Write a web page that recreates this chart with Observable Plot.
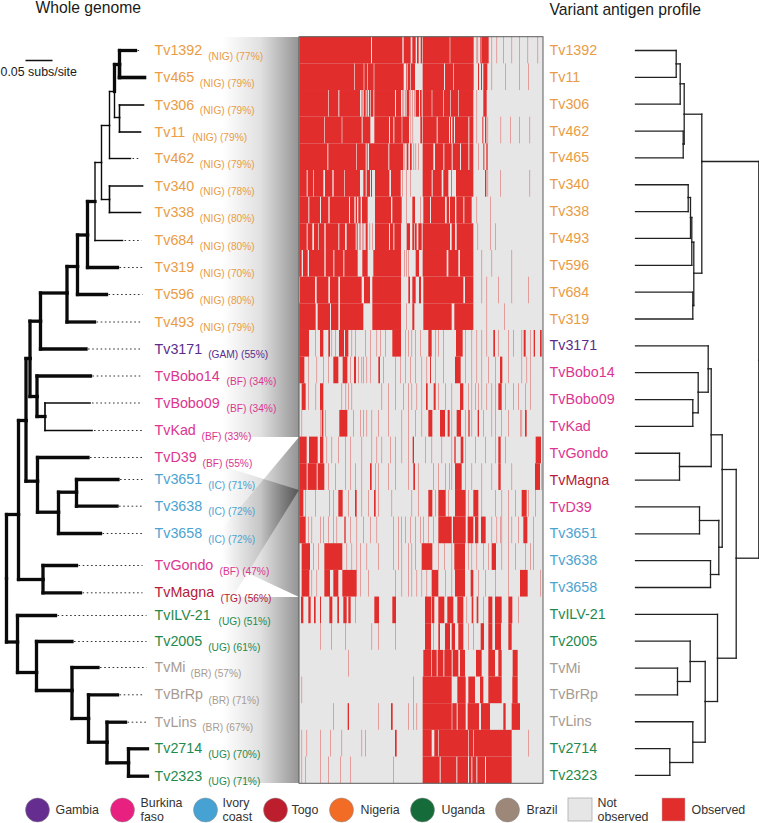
<!DOCTYPE html>
<html><head><meta charset="utf-8">
<script src="https://cdn.jsdelivr.net/npm/d3@7"></script>
<script src="https://cdn.jsdelivr.net/npm/@observablehq/plot@0.6"></script>
<style>html,body{margin:0;padding:0;background:#fff}svg{display:block}</style>
</head><body><div id="chart"></div>
<script>
const font = "'Liberation Sans', Arimo, Helvetica, sans-serif";
const countryColors = {NIG:"#e99c45",GAM:"#5a2d8c",BF:"#dc3590",IC:"#4ba3d1",TG:"#b3203a",UG:"#1f8a4d",BR:"#a79b91"};

// Whole-genome tree tips, top to bottom
const leftNames = ["Tv1392","Tv465","Tv306","Tv11","Tv462","Tv340","Tv338","Tv684","Tv319","Tv596","Tv493","Tv3171","TvBobo14","TvBobo09","TvKad","TvD39","Tv3651","Tv3638","Tv3658","TvGondo","TvMagna","TvILV-21","Tv2005","TvMi","TvBrRp","TvLins","Tv2714","Tv2323"];
const leftCountry = ["NIG","NIG","NIG","NIG","NIG","NIG","NIG","NIG","NIG","NIG","NIG","GAM","BF","BF","BF","BF","IC","IC","IC","BF","TG","UG","UG","BR","BR","BR","UG","UG"];
const leftPercent = [77,79,79,79,79,78,80,80,70,80,79,55,34,34,33,55,71,72,72,47,56,51,61,57,71,67,70,71];
const leftRowY = [50,77,104.5,131.5,158,185.5,212,240,267,294,321.5,348.5,375.5,402.5,430,457,479,505.7,533,565,592.3,615,641,667,694.3,721.7,748.3,775.7];
const leftSubX = [207.7,199.3,199.3,191.7,199.3,199.3,199.3,199.3,199.3,199.3,199.3,207.7,226,226,201,202,207.7,207.7,207.7,219,220,218,207.7,190,208,201.7,207.7,207.7];
const leftDotEnd = [141,null,null,null,140,null,null,141,143,142,142,142,142,142,143,143,142,142,142,142,142,146,146,146,143,146,null,null];

// [node, parent, depth, y, line weight]
const leftNodes = [
 ["n0",null,6,578,3.3],["n19","n0",18,514,3.3],["n21","n0",17,641.5,3.3],["n15","n19",25.5,420,3.3],["n20","n19",42.5,579,3.3],
 ["n12","n15",29.5,358,3.3],["n16","n15",37,480.7,3.3],["n11","n12",40,320.7,3.3],["n13","n12",36.5,396,3.3],["n10","n11",66.5,292.5,3.3],
 ["n9","n10",77,266,3.3],["n8","n9",87,234.5,3.3],["n7","n8",94.5,201,3.3],["n5","n7",101,162,1.4],["n3","n5",109,125,1.4],
 ["n2","n3",114,91,1.4],["n1","n2",119,64,3.3],["n4","n2",119,117,1.4],["n6","n5",109,199,1.4],["n14","n13",44.5,416,3.3],
 ["n17","n16",58,511.7,3.3],["n18","n17",76,491.7,3.3],["n22","n21",36,672,3.3],["n23","n22",71.5,690,3.3],["n24","n23",88,718,3.3],
 ["n25","n24",106.5,741.7,3.3],["n26","n25",128,762.3,3.3]
];
// [tip parent, branch end, line weight]
const leftTipBranches = [
 ["n1",135,3.3],["n1",144,3.6],["n4",143,1.6],["n4",140,1.6],["n3",130,1.4],["n6",142,1.6],["n6",140,1.6],["n7",122,1.4],["n8",117,3.3],["n9",106,3.3],["n10",94,3.3],
 ["n11",85.5,3.3],["n13",90,3.3],["n14",89.5,1.7],["n14",91.5,1.7],["n16",87.5,3.3],["n18",117.5,3.3],["n18",116.5,3.3],["n17",100,3.3],["n20",76,3.3],["n20",80,3.3],
 ["n21",55,3.3],["n22",71.5,3.3],["n23",97.5,3.3],["n24",117,3.3],["n25",125,3.3],["n26",147,3.3],["n26",147,3.3]
];

// Variant antigen profile tips and heatmap rows, top to bottom
const rightNames = ["Tv1392","Tv11","Tv306","Tv462","Tv465","Tv340","Tv338","Tv493","Tv596","Tv684","Tv319","Tv3171","TvBobo14","TvBobo09","TvKad","TvGondo","TvMagna","TvD39","Tv3651","Tv3638","Tv3658","TvILV-21","Tv2005","TvMi","TvBrRp","TvLins","Tv2714","Tv2323"];
const rightCountry = ["NIG","NIG","NIG","NIG","NIG","NIG","NIG","NIG","NIG","NIG","NIG","GAM","BF","BF","BF","BF","TG","BF","IC","IC","IC","UG","UG","BR","BR","BR","UG","UG"];
const rightNodes = [
 ["r0",null,758.3,360,1.3],["r5","r0",701.3,161,1.3],["rj","r0",735.7,557.7,1.3],["r3","r5",683.7,113.7,1.3],["r10","r5",693.3,272.7,1.3],
 ["r2","r3",679.7,83.3,1.3],["r4","r3",682.7,143.5,1.3],["r1","r2",675.7,63.4,1.3],["r8","r10",691.3,241.7,1.3],["r9","r10",692.3,305,1.3],
 ["r7","r8",690,217,1.3],["r6","r7",687.7,197,1.3],["rf","rj",721.7,469,1.3],["rk","rj",717,657.7,1.3],["rd","rf",710.7,434.3,1.3],["rg","rf",718.3,546.7,1.3],
 ["ra","rd",707.7,368.3,1.3],["re","rd",679,466,1.3],["rb","ra",697.7,391.7,1.3],["rc","rb",692.3,412.3,1.3],["rh","rg",699,520,1.3],["ri","rg",710,574,1.3],
 ["rl","rk",704.7,701,1.3],["rm","rl",689.7,661,1.3],["rn","rm",677,681,1.3],["ro","rl",692.3,741.7,1.3],["rp","ro",669.3,762,1.3]
];
const rightTipParents = ["r1","r1","r2","r4","r4","r6","r6","r7","r8","r9","r9","ra","rb","rc","rc","re","re","rh","rh","ri","ri","rk","rm","rn","rn","ro","rp","rp"];

// Observed variant antigen runs per row, in ordered gene positions ("a-b" run, "a" a single gene)
const observedRuns = [
 "13-228 231-322 326-347 352-362 366-371 377-381 383-464 466-536 545 548 556-560 561-581 590 605 625 650 672 698 728",
 "13-178 180-206 208-217 219-236 238-326 334-337 339-345 347-360 383-447 450-475 477-536 549-552 558-561 565-577 590 630 672 700",
 "13-100 102-130 133-195 198 202 206-212 215-218 222-226 228-235 238-300 303-318 321 326 330 335-343 347 352 357 362-372 375-380 383-410 412-445 447-465 467-490 492-535 545 565-575",
 "13-88 90-140 142-200 203-226 238-282 285-295 298-320 322-342 347 353 376-381 383-425 428-462 465-468 472-477 480-520 523-535 545 562-565 570-574 578 617 645 672 704",
 "13-97 100-183 185-212 215-218 222-280 283-325 329 335-340 345-350 356 362 370 383-415 420-445 448-470 473-495 498-520 523-535 550 565-568 574-578",
 "13-35 38-55 57-85 90-112 116-148 150-195 205-212 215-225 228-231 240-283 288-317 322 333 345 383-410 413-440 445-460 468-470 483-535 570-574 578 615 704",
 "13-40 43-75 78-100 104-162 165-178 182-186 190-197 201-218 240-288 292-320 333 352-360 375 385-405 408-450 455-462 465-480 484-505 508-530 545 585",
 "13-35 38-52 57-70 72-88 92-130 133-150 155-182 185-188 192 196 202 206 212-218 224 232 240-282 285-295 298-318 335-345 352-358 360-365 370-380 383-465 470-480 485-535 548 585 600",
 "13-20 24-38 42-88 92-115 118-145 148-188 202-218 235-318 328 334 340 362-372 383-455 460-490 495-535 560 590 650",
 "15-60 65-100 105-130 135-200 207-225 232-318 340-345 352-362 372-378 385-505 510-535 560 575 610 650 700",
 "13-62 68-105 108-130 135-205 232-318 333 352-358 385-470 478-535 575 628",
 "13-42 60 75-85 100-105 110 120 132-147 150-160 170 180 210 225 245 255 270 292-318 330 340 350 360 375 400-410 420 430 445 483-503 510 530 545 560 575 595-600 610 640 655 680 686-692 705 716-720 735-740",
 "13-28 40 65 85 100 115-130 143-157 165 177-183 190 200 205 215 225 250-255 265 300 315 330 345 360 380 395 405-408 420 445 480-497 510 530 545 560 580 600 615-622 640 680 695 705",
 "20-32 40 62 75-85 140 152 160 170 260 280 300 325 340 350 365 380 393-398 416-422 430 450 470 495-505 520 530 540 550 560 575 590 600 610-620 630 655 670 690 705",
 "20 75 80-85 90 133-157 175 195 205 215 230 250 280 320 340 360 380 400-412 435-450 458-464 470 485-498 510 520-524 530 548-552 565 590 600 618 640 675 680 690-695",
 "13-35 42-68 75-85 95 110 130 150 165 200 230 245 260 285 300 320 340 353-357 390 410 440 470 478-482 497-505 510 540 570 600 610-617 630 722-738",
 "13-35 38-65 68-88 100 120 150 165 180 200 225-230 240 250 280 300 340 355-360 370 415 430 450 463 470 480-500 510 530 560 590 610-617 650 720-735 740",
 "13-25 30 60 102 115 130-143 160 180-185 200 220 237-242 250 290 350 370 400-412 420 430-452 460 480-512 520 535-550 560 600 620 640 660 680-695 700 720",
 "13-32 40 50 75 85 100 115 125 148-152 165 185 205 225 245 295 310 318 330 345 360 375 385 400 415 430-470 474-512 518-535 540-550 558-572 590 605 615 620 640 650 670 685-697 715",
 "20-45 55 70 88-142 155 170 185 195 215 250 295 310 320 340 350 360 380-412 430 448 470 478-510 520 530 545 565 580 590-603 620 640 660 690 705 715",
 "20-43 50 65 88-105 115-130 142-185 195 220 300 320 340 350 365 380 395 410-430 450 470 480-510 527-535 550 570 600 640 675-698 735",
 "18-25 40-47 57-62 75-78 103-112 127-132 145-155 160-167 180 238-252 292-303 390-408 410-418 430-448 457-475 487-505 515 530-535 545-550 565 580-592 600-620 640-652 670",
 "75 108 150 230 250 300 390-408 415 430-435 450-465 470-480 490-505 520 535 557-567 580-592 600-618 640-650",
 "160 385-408 410-425 428-445 448-470 473-490 495-510 543-560 580-600 610-620 653-668",
 "20 355 383-470 487-512 520-540 555-565 580-620 652-668",
 "115 158-162 250 288-293 340 355 365 383-470 472-485 488-512 518-552 558-585 625-632 650-675",
 "20 35 75 105 140 200 210 300-305 383-410 418-430 432-520 522-535 537-650 700",
 "20 30 75 100 135 165 295 383-434 437-484 487-519 522-529 532-544 547-570 573-650"
];

// Legend
const legendNames = ["Gambia","Burkina\nfaso","Ivory\ncoast","Togo","Nigeria","Uganda","Brazil"];
const legendColors = ["#662d91","#e8207f","#45a2d3","#bd1e2e","#f26c25","#156c3a","#9c8778"];
const legendDotX = [37,122,205,275,341,422,507];
const legendTextX = [55,140,222,291,360,441,526];

// Layout of the figure
const heat = {top:36.7,rowH:26.66,bottom:783.3,left:299,right:543,colX:c => 295 + c/3};
const rightRowY = rightNames.map((_,i) => 50 + 26.85*i);
const heatEdge = r => heat.top + heat.rowH*r;

// Build trees
function treeSegments(nodes, tips){
  const byId = new Map(nodes.map(n => [n[0],{x:n[2],y:n[3]}]));
  const segs = [];
  const add = (parent,x,y,w) => {
    const p = byId.get(parent);
    segs.push({x1:p.x,y1:y,x2:x,y2:y,w},{x1:p.x,y1:p.y,x2:p.x,y2:y,w});
  };
  nodes.forEach(n => { if(n[1]) add(n[1],n[2],n[3],n[4]); });
  tips.forEach(t => add(t.parent,t.end,t.y,t.w));
  return segs;
}
const leftSegs = treeSegments(leftNodes,leftTipBranches.map((t,i)=>({parent:t[0],end:t[1],w:t[2],y:leftRowY[i]})));
const rightSegs = treeSegments(rightNodes,rightTipParents.map((p,i)=>({parent:p,end:635,w:1.3,y:rightRowY[i]})));
const dotted = leftDotEnd.map((e,i)=>e==null?null:({x1:leftTipBranches[i][1]+2,x2:e,y:leftRowY[i]})).filter(Boolean);
const runs = observedRuns.flatMap((s,r)=>s.split(" ").map(t=>{
  const p = t.split("-").map(Number);
  return {r,a:p[0],b:p.length>1?p[1]:p[0]+1.2};
}));
const left = leftNames.map((name,i)=>({name,i,y:leftRowY[i],c:countryColors[leftCountry[i]],sub:`(${leftCountry[i]}) (${leftPercent[i]}%)`,sx:leftSubX[i]}));
const right = rightNames.map((name,i)=>({name,y:rightRowY[i],c:countryColors[rightCountry[i]]}));
const legend = legendNames.map((name,i)=>({name,dx:legendDotX[i],tx:legendTextX[i],c:legendColors[i]}));

// Connector shading between tree labels and heatmap rows
const fadeX = [222,299];
const bands = [
  [[37,437],[37,437]],
  [[597,783],[597,783]],
  [[529,614],[437,490]],
  [[466,561],[490,597]]
];

const marks = [
  ...bands.map(b => Plot.area([0,1],{x1:i=>fadeX[i],y1:i=>b[i][0],y2:i=>b[i][1],fill:"url(#fade)",curve:"linear"})),
  Plot.rect([0],{x1:heat.left,x2:heat.right,y1:heat.top,y2:heat.bottom,fill:"#e6e6e6"}),
  Plot.rect(runs,{x1:d=>heat.colX(d.a),x2:d=>heat.colX(d.b),y1:d=>heatEdge(d.r),y2:d=>heatEdge(d.r+1),fill:"#e12d2c"}),
  Plot.rect([0],{x1:heat.left,x2:heat.right,y1:heat.top,y2:heat.bottom,fill:"none",stroke:"#5c5c5c",strokeWidth:1}),
  Plot.link(dotted,{x1:"x1",x2:"x2",y1:"y",y2:"y",stroke:"#333",strokeWidth:1,strokeDasharray:"1.6,2.6"}),
  Plot.link(leftSegs,{x1:"x1",y1:"y1",x2:"x2",y2:"y2",stroke:"#0a0a0a",strokeWidth:"w",strokeLinecap:"square"}),
  Plot.link(rightSegs,{x1:"x1",y1:"y1",x2:"x2",y2:"y2",stroke:"#222",strokeWidth:"w",strokeLinecap:"square"}),
  Plot.text(left,{x:154,y:"y",text:"name",fill:"c",textAnchor:"start",fontSize:14.3,fontFamily:font,dy:0}),
  Plot.text(left,{x:"sx",y:"y",text:"sub",fill:"c",textAnchor:"start",fontSize:10.2,fontFamily:font,dy:6}),
  Plot.text(right,{x:549,y:"y",text:"name",fill:"c",textAnchor:"start",fontSize:14.3,fontFamily:font}),
  Plot.text(["Whole genome"],{x:35,y:7,text:d=>d,textAnchor:"start",fontSize:15.7,fontFamily:font,fill:"#1a1a1a"}),
  Plot.text(["Variant antigen profile"],{x:549,y:9,text:d=>d,textAnchor:"start",fontSize:15.7,fontFamily:font,fill:"#1a1a1a"}),
  Plot.link([0],{x1:25,x2:52,y1:60,y2:60,stroke:"#111",strokeWidth:1.5}),
  Plot.text(["0.05 subs/site"],{x:0,y:72,text:d=>d,textAnchor:"start",fontSize:12.4,fontFamily:font,fill:"#1a1a1a"}),
  Plot.dot(legend,{x:"dx",y:809.5,r:12,fill:"c",stroke:"#8a8a8a",strokeWidth:.5}),
  Plot.text(legend,{x:"tx",y:809.5,text:"name",textAnchor:"start",fontSize:12.4,lineHeight:1.13,fontFamily:font,fill:"#333"}),
  Plot.rect([0],{x1:568,x2:592,y1:798,y2:821,fill:"#e6e6e6",stroke:"#aaa",strokeWidth:.8}),
  Plot.text(["Not\nobserved"],{x:597,y:809.5,text:d=>d,textAnchor:"start",fontSize:12.4,lineHeight:1.13,fontFamily:font,fill:"#333"}),
  Plot.rect([0],{x1:662,x2:685,y1:798,y2:821,fill:"#e12d2c",stroke:"#bbb",strokeWidth:.5}),
  Plot.text(["Observed"],{x:691,y:809.5,text:d=>d,textAnchor:"start",fontSize:12.4,fontFamily:font,fill:"#333"})
];

const plot = Plot.plot({
  width:759,height:823,margin:0,
  x:{domain:[0,759],range:[0,759],axis:null},
  y:{domain:[0,823],range:[0,823],axis:null},
  style:{background:"#fff",fontFamily:font},
  marks
});
const defs = d3.select(plot).insert("defs",":first-child");
const g = defs.append("linearGradient").attr("id","fade").attr("gradientUnits","userSpaceOnUse")
  .attr("x1",fadeX[0]).attr("x2",fadeX[1]).attr("y1",0).attr("y2",0);
[[0,0],[0.5,0.12],[1,0.42]].forEach(([o,a])=>g.append("stop").attr("offset",o).attr("stop-color","#000").attr("stop-opacity",a));
document.getElementById("chart").append(plot);
</script></body></html>
